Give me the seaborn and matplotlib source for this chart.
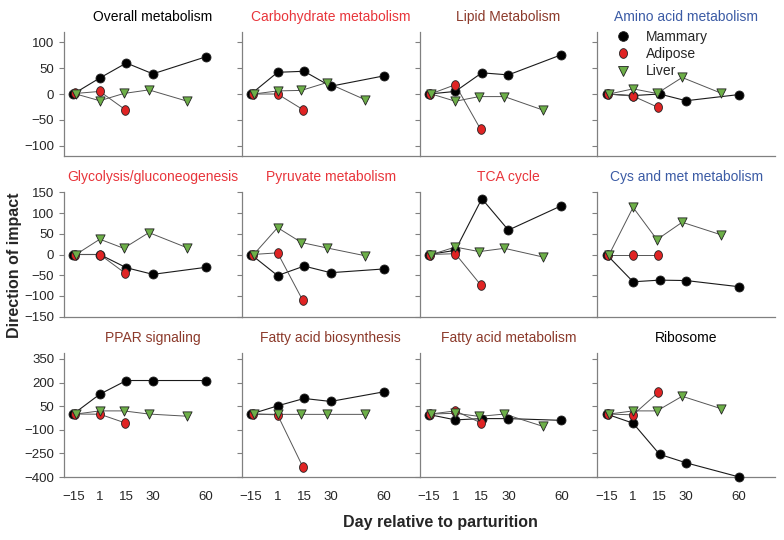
import numpy as np
import pandas as pd
import matplotlib
matplotlib.use('Agg')
import matplotlib.pyplot as plt
from matplotlib.lines import Line2D
import seaborn as sns

# x positions (categorical-ish day axis) and tick labels
day_ticks = [0, 1, 2, 3, 5]
day_labels = ['\u221215', '1', '15', '30', '60']
mammary_x = [0, 1, 2, 3, 5]
adipose_x = [0.06, 1.0, 1.95]
liver_x = [0.1, 1.0, 1.9, 2.85, 4.3]

pathways = ['Overall metabolism', 'Carbohydrate metabolism', 'Lipid Metabolism', 'Amino acid metabolism',
            'Glycolysis/gluconeogenesis', 'Pyruvate metabolism', 'TCA cycle', 'Cys and met metabolism',
            'PPAR signaling', 'Fatty acid biosynthesis', 'Fatty acid metabolism', 'Ribosome']
title_colors = ['black', '#E8353B', '#8C3A2B', '#3B5BA5',
                '#E8353B', '#E8353B', '#E8353B', '#3B5BA5',
                '#8C3A2B', '#8C3A2B', '#8C3A2B', 'black']

mammary = [
    [0, 31, 60, 39, 72],
    [0, 42, 44, 15, 35],
    [0, 5, 41, 37, 76],
    [0, -3, 0, -13, -1],
    [0, 0, -32, -48, -31],
    [0, -51, -28, -44, -35],
    [0, 10, 135, 59, 118],
    [0, -66, -62, -63, -78],
    [0, 126, 213, 213, 213],
    [0, 52, 99, 80, 141],
    [-3, -37, -29, -29, -40],
    [0, -58, -256, -310, -400],
]
adipose = [
    [1, 5, -30],
    [0, 0, -30],
    [0, 18, -68],
    [0, -4, -26],
    [0, 0, -45],
    [0, 4, -111],
    [0, 2, -73],
    [0, 0, 0],
    [0, -1, -56],
    [0, -5, -335],
    [0, 20, -55],
    [0, -5, 137],
]
liver = [
    [0, -13, 1, 8, -14],
    [0, 6, 7, 22, -11],
    [0, -14, -5, -5, -31],
    [0, 10, 1, 32, 2],
    [0, 37, 15, 53, 16],
    [0, 65, 29, 16, -3],
    [0, 18, 7, 15, -6],
    [0, 114, 36, 78, 48],
    [0, 20, 20, 0, -14],
    [0, -2, -2, -2, -2],
    [0, 5, -15, 0, -78],
    [0, 20, 20, 113, 35],
]

row_ylims = [(-120, 120), (-150, 150), (-400, 388)]
row_yticks = [[-100, -50, 0, 50, 100],
              [-150, -100, -50, 0, 50, 100, 150],
              [-400, -250, -100, 50, 200, 350]]

tissues = ['Mammary', 'Adipose', 'Liver']

# long table
records = []
for i, p in enumerate(pathways):
    for t, xs, vals in zip(tissues, [mammary_x, adipose_x, liver_x], [mammary[i], adipose[i], liver[i]]):
        for x, v in zip(xs, vals):
            records.append({'pathway': p, 'tissue': t, 'x': x, 'value': v})
df = pd.DataFrame(records)

sns.set_style('ticks')
plt.rcParams['font.family'] = ['Liberation Sans', 'DejaVu Sans']

theta = np.linspace(0, 2 * np.pi, 41)
ellipse = np.column_stack([0.82 * np.cos(theta), np.sin(theta)])

line_color = {'Mammary': '#1a1a1a', 'Adipose': '#555555', 'Liver': '#555555'}
line_width = {'Mammary': 0.8, 'Adipose': 0.7, 'Liver': 0.7}
face_color = {'Mammary': 'black', 'Adipose': '#E02424', 'Liver': '#6DAF48'}
marker_shape = {'Mammary': 'o', 'Adipose': ellipse, 'Liver': 'v'}
marker_size = {'Mammary': 42, 'Adipose': 48, 'Liver': 44}

fig, axes = plt.subplots(3, 4, figsize=(7.84, 5.40), dpi=100, sharex=True)
fig.subplots_adjust(left=64 / 784, right=775 / 784, top=1 - 32 / 540, bottom=1 - 477 / 540,
                    wspace=0, hspace=0.294)

for i, p in enumerate(pathways):
    r, c = divmod(i, 4)
    ax = axes[r, c]
    sub = df[df['pathway'] == p]
    for t in tissues:
        st = sub[sub['tissue'] == t]
        sns.lineplot(data=st, x='x', y='value', color=line_color[t], lw=line_width[t],
                     sort=False, estimator=None, ax=ax, legend=False, zorder=1)
    for t in tissues:
        st = sub[sub['tissue'] == t]
        sns.scatterplot(data=st, x='x', y='value', color=face_color[t], marker=marker_shape[t],
                        s=marker_size[t], edgecolor='#222222', linewidth=0.6, ax=ax,
                        legend=False, zorder=3, clip_on=False)
    ax.set_title(p, color=title_colors[i], fontsize=10, pad=8)
    ax.set_xlim(-0.35, 6.35)
    ax.set_ylim(*row_ylims[r])
    ax.set_yticks(row_yticks[r])
    ax.set_xticks(day_ticks)
    ax.set_xticklabels(day_labels)
    ax.set_xlabel('')
    ax.set_ylabel('')
    ax.tick_params(axis='x', length=0, pad=10, labelsize=9.5, labelbottom=(r == 2))
    ax.tick_params(axis='y', length=3.5, width=0.8, color='#808080', labelsize=9.5,
                   labelleft=(c == 0))
    sns.despine(ax=ax)
    for s in ['left', 'bottom']:
        ax.spines[s].set_color('#808080')
        ax.spines[s].set_linewidth(0.9)

handles = [Line2D([], [], ls='', marker=marker_shape[t], markerfacecolor=face_color[t],
                  markeredgecolor='#222222', markeredgewidth=0.6, markersize=7) for t in tissues]
axes[0, 3].legend(handles, tissues, loc='upper left', bbox_to_anchor=(0.105, 1.02), frameon=False,
                  fontsize=10, handlelength=1, handletextpad=1.15, labelspacing=0.25,
                  borderpad=0, borderaxespad=0)

fig.text(15 / 784, 1 - 265 / 540, 'Direction of impact', rotation=90, fontsize=11.5,
         fontweight='bold', ha='center', va='center')
fig.text(440 / 784, 1 - 523 / 540, 'Day relative to parturition', fontsize=11.5,
         fontweight='bold', ha='center', va='center')

fig.savefig('out.png', dpi=100)
